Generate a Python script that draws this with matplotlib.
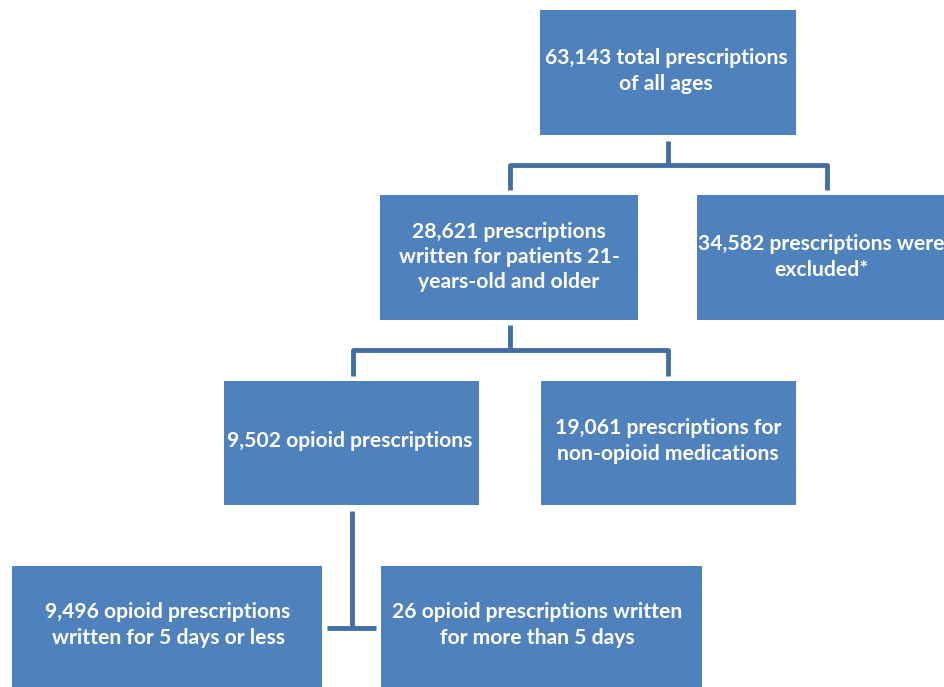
import matplotlib
matplotlib.use("Agg")
import matplotlib.pyplot as plt
from matplotlib.patches import Rectangle

# ---- data ----
counts = ["63,143", "28,621", "34,582", "9,502", "19,061", "9,496", "26"]
labels = [
    "{} total prescriptions\nof all ages",
    "{} prescriptions\nwritten for patients 21-\nyears-old and older",
    "{} prescriptions were\nexcluded*",
    "{} opioid prescriptions",
    "{} prescriptions for\nnon-opioid medications",
    "{} opioid prescriptions\nwritten for 5 days or less",
    "{} opioid prescriptions written\nfor more than 5 days",
]

# ---- layout (pixel coordinates, origin top-left) ----
boxes = [
    (540, 10, 256, 125),
    (380, 195, 258, 125),
    (697, 195, 260, 125),
    (224, 381, 255, 124),
    (541, 381, 255, 124),
    (12, 566, 310, 130),
    (381, 566, 321, 130),
]
text_centers = [
    (666, 71), (509, 257), (821, 257), (350, 441), (668, 441), (168, 625), (537, 625)
]

FILL = "#4F81BD"
LINE = "#436EA5"

fig = plt.figure(figsize=(9.45, 6.87), dpi=100)
ax = fig.add_axes([0, 0, 1, 1])
ax.set_xlim(0, 945)
ax.set_ylim(687, 0)
ax.axis("off")

for (x, y, w, h) in boxes:
    ax.add_patch(Rectangle((x, y), w, h, facecolor=FILL, edgecolor="none"))

for (cx, cy), c, lab in zip(text_centers, counts, labels):
    ax.text(cx, cy, lab.format(c), ha="center", va="center", color="white",
            fontsize=15.2, fontweight="bold", family=["Lato", "DejaVu Sans"],
            linespacing=1.32, clip_on=True)

lw = 3.5
def seg(xs, ys):
    ax.plot(xs, ys, color=LINE, lw=lw, solid_capstyle="butt", solid_joinstyle="round")

# connector 1
seg([668, 668], [141, 165])
seg([510, 510, 827, 827], [190, 165, 165, 190])
# connector 2
seg([510, 510], [325, 350])
seg([353, 353, 668, 668], [376, 350, 350, 376])
# connector 3
seg([352, 352], [511, 628])
seg([327, 376], [628, 628])

fig.savefig("out.png", dpi=100)
